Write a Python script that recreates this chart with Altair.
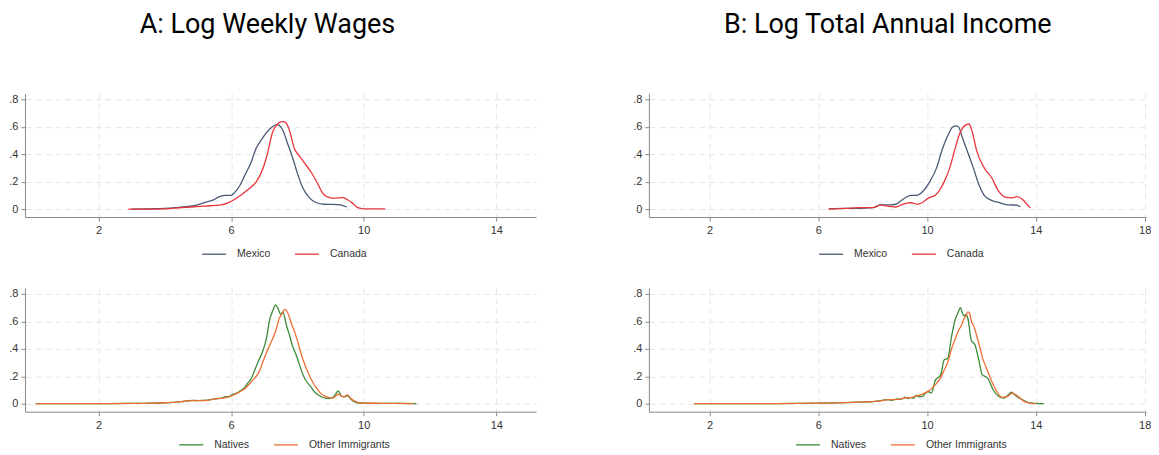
import altair as alt
import pandas as pd

# ---------------- data ----------------
# Panel A top: log weekly wages, Mexico vs Canada
mex_w_x = [3.0, 3.5, 4.0, 4.3, 4.6, 4.9, 5.1, 5.3, 5.45, 5.6, 5.8, 6.0, 6.1, 6.26, 6.4, 6.6, 6.76,
           6.9, 7.06, 7.2, 7.36, 7.45, 7.55, 7.7, 7.86, 8.0, 8.16, 8.35, 8.57, 8.8, 9.07, 9.3, 9.49]
mex_w_y = [0.0, 0.002, 0.005, 0.01, 0.018, 0.025, 0.04, 0.055, 0.065, 0.085, 0.1, 0.1, 0.12, 0.17,
           0.24, 0.34, 0.446, 0.5, 0.555, 0.59, 0.615, 0.61, 0.58, 0.48, 0.37, 0.26, 0.155, 0.085,
           0.046, 0.035, 0.034, 0.03, 0.015]
can_w_x = [2.9, 3.5, 4.0, 4.4, 4.8, 5.2, 5.7, 5.9, 6.1, 6.26, 6.5, 6.76, 6.9, 7.06, 7.26, 7.4, 7.5,
           7.56, 7.65, 7.75, 7.91, 8.05, 8.2, 8.41, 8.6, 8.75, 8.89, 9.1, 9.37, 9.5, 9.65, 9.82,
           10.0, 10.3, 10.65]
can_w_y = [0.0, 0.0, 0.002, 0.008, 0.015, 0.022, 0.03, 0.045, 0.07, 0.095, 0.14, 0.2, 0.26, 0.37,
           0.567, 0.62, 0.635, 0.637, 0.63, 0.58, 0.44, 0.39, 0.34, 0.27, 0.19, 0.12, 0.09, 0.078,
           0.084, 0.07, 0.045, 0.01, 0.002, 0.001, 0.001]

# Panel A bottom: Natives vs Other Immigrants
nat_w_x = [0.1, 1.0, 2.0, 3.0, 3.6, 4.0, 4.38, 4.6, 4.83, 5.0, 5.28, 5.5, 5.72, 5.8, 5.94, 6.05,
           6.17, 6.28, 6.39, 6.5, 6.61, 6.72, 6.84, 6.95, 7.06, 7.17, 7.26, 7.34, 7.42, 7.5,
           7.56, 7.67, 7.76, 7.84, 7.92, 8.0, 8.08, 8.17, 8.28, 8.4, 8.5, 8.62, 8.73, 8.84,
           8.95, 9.06, 9.15, 9.23, 9.34, 9.42, 9.51, 9.62, 9.79, 10.0, 10.5, 11.0, 11.59]
nat_w_y = [0.0, 0.0, 0.001, 0.002, 0.004, 0.007, 0.012, 0.019, 0.024, 0.023, 0.026, 0.036, 0.041,
           0.05, 0.053, 0.068, 0.077, 0.095, 0.113, 0.15, 0.185, 0.25, 0.32, 0.38, 0.47, 0.62,
           0.68, 0.72, 0.69, 0.65, 0.67, 0.57, 0.5, 0.43, 0.38, 0.33, 0.27, 0.21, 0.16, 0.125,
           0.09, 0.065, 0.05, 0.04, 0.038, 0.045, 0.07, 0.094, 0.053, 0.05, 0.06, 0.03, 0.007,
           0.004, 0.003, 0.002, 0.0]
oth_w_x = [0.1, 1.0, 2.0, 3.0, 3.6, 4.0, 4.38, 4.6, 4.83, 5.0, 5.28, 5.5, 5.72, 5.94, 6.17, 6.39,
           6.61, 6.72, 6.84, 6.95, 7.06, 7.17, 7.28, 7.37, 7.45, 7.53, 7.62, 7.7, 7.77, 7.84,
           7.92, 8.0, 8.08, 8.17, 8.28, 8.4, 8.5, 8.62, 8.73, 8.84, 8.95, 9.06, 9.15, 9.23,
           9.32, 9.4, 9.51, 9.62, 9.79, 9.96, 10.5, 11.0, 11.5]
oth_w_y = [0.0, 0.0, 0.001, 0.002, 0.004, 0.007, 0.011, 0.018, 0.022, 0.022, 0.025, 0.034, 0.04,
           0.05, 0.075, 0.105, 0.16, 0.19, 0.23, 0.3, 0.37, 0.43, 0.49, 0.55, 0.62, 0.655,
           0.687, 0.667, 0.62, 0.57, 0.52, 0.46, 0.39, 0.32, 0.25, 0.186, 0.14, 0.1, 0.07,
           0.053, 0.045, 0.041, 0.055, 0.07, 0.058, 0.05, 0.065, 0.036, 0.012, 0.005, 0.003,
           0.002, 0.0]

# Panel B top: log total annual income, Mexico vs Canada
mex_i_x = [6.4, 7.0, 7.5, 8.0, 8.3, 8.6, 8.85, 9.1, 9.4, 9.6, 9.85, 10.1, 10.35, 10.55, 10.75,
           10.95, 11.05, 11.15, 11.3, 11.5, 11.7, 11.9, 12.1, 12.35, 12.63, 13.0, 13.3, 13.43]
mex_i_y = [0.003, 0.005, 0.005, 0.01, 0.03, 0.03, 0.035, 0.07, 0.1, 0.1, 0.13, 0.2, 0.3, 0.43,
           0.53, 0.6, 0.606, 0.6, 0.52, 0.41, 0.3, 0.18, 0.1, 0.065, 0.048, 0.03, 0.029, 0.017]
can_i_x = [6.37, 7.0, 7.5, 8.0, 8.3, 8.6, 8.85, 9.1, 9.4, 9.65, 9.85, 10.05, 10.3, 10.5, 10.63,
           10.8, 11.03, 11.2, 11.3, 11.45, 11.54, 11.65, 11.83, 12.1, 12.37, 12.63, 12.9, 13.1,
           13.3, 13.5, 13.65, 13.79]
can_i_y = [0.0, 0.005, 0.01, 0.01, 0.028, 0.02, 0.015, 0.035, 0.046, 0.035, 0.05, 0.08, 0.1,
           0.15, 0.2, 0.28, 0.44, 0.55, 0.59, 0.615, 0.62, 0.57, 0.42, 0.3, 0.23, 0.13, 0.085,
           0.082, 0.09, 0.072, 0.04, 0.01]

# Panel B bottom: Natives vs Other Immigrants
nat_i_x = [1.44, 3.0, 4.5, 6.0, 7.0, 7.5, 8.0, 8.3, 8.5, 8.7, 8.9, 9.05, 9.2, 9.3, 9.4, 9.5,
           9.6, 9.7, 9.83, 9.93, 10.03, 10.16, 10.3, 10.5, 10.63, 10.76, 10.9, 11.03, 11.13,
           11.23, 11.3, 11.36, 11.43, 11.5, 11.63, 11.76, 11.9, 12.03, 12.13, 12.23, 12.43,
           12.63, 12.83, 12.96, 13.1, 13.2, 13.3, 13.5, 13.76, 14.0, 14.29]
nat_i_y = [0.0, 0.0, 0.001, 0.004, 0.008, 0.012, 0.015, 0.022, 0.03, 0.025, 0.035, 0.033, 0.048,
           0.038, 0.045, 0.04, 0.06, 0.05, 0.053, 0.075, 0.089, 0.077, 0.17, 0.21, 0.32, 0.33,
           0.49, 0.61, 0.66, 0.7, 0.66, 0.64, 0.65, 0.62, 0.46, 0.43, 0.32, 0.21, 0.2, 0.185,
           0.1, 0.053, 0.041, 0.06, 0.084, 0.07, 0.053, 0.03, 0.007, 0.002, 0.0]
oth_i_x = [1.44, 3.0, 4.5, 6.0, 7.0, 7.5, 8.0, 8.3, 8.5, 8.7, 8.9, 9.05, 9.2, 9.4, 9.6, 9.83,
           10.03, 10.16, 10.3, 10.5, 10.63, 10.76, 10.9, 11.03, 11.16, 11.26, 11.36, 11.43,
           11.5, 11.56, 11.63, 11.73, 11.83, 11.93, 12.03, 12.16, 12.3, 12.43, 12.56, 12.76,
           12.96, 13.13, 13.3, 13.43, 13.56, 13.83, 14.0]
oth_i_y = [0.0, 0.0, 0.001, 0.004, 0.008, 0.012, 0.016, 0.02, 0.028, 0.03, 0.032, 0.035, 0.042,
           0.045, 0.055, 0.07, 0.09, 0.11, 0.137, 0.19, 0.246, 0.3, 0.4, 0.47, 0.535, 0.57, 0.62,
           0.64, 0.67, 0.66, 0.6, 0.56, 0.49, 0.42, 0.34, 0.27, 0.2, 0.14, 0.09, 0.046, 0.053,
           0.077, 0.06, 0.04, 0.017, 0.002, 0.0]

names_top = ["Mexico", "Canada"]
colors_top = ["#4b5878", "#e8363c"]
names_bot = ["Natives", "Other Immigrants"]
colors_bot = ["#3a8a3a", "#ec6f34"]
y_ticks = [0, 0.2, 0.4, 0.6, 0.8]
xticks_a = [2, 6, 10, 14]
xticks_b = [2, 6, 10, 14, 18]
title_a = "A: Log Weekly Wages"
title_b = "B: Log Total Annual Income"

FONT = "Liberation Sans"


def make_df(series):
    rows = []
    for name, xs, ys in series:
        for i, (x, y) in enumerate(zip(xs, ys)):
            rows.append({"series": name, "x": x, "y": y, "idx": i})
    return pd.DataFrame(rows)


def panel(df, names, colors, xdomain, xticks, width, legend_w, legend_y):
    return alt.Chart(df).mark_line(strokeWidth=1.3, interpolate="monotone").encode(
        x=alt.X("x:Q",
                scale=alt.Scale(domain=xdomain, nice=False, zero=False),
                axis=alt.Axis(values=xticks, title=None, grid=True, gridDash=[6, 4],
                              gridColor="#e6e6e6", domainColor="#8a8a8a", tickColor="#8a8a8a",
                              tickSize=4, labelFont=FONT, labelFontSize=11, labelColor="#333333",
                              labelPadding=4, labelFlush=False)),
        y=alt.Y("y:Q",
                scale=alt.Scale(domain=[-0.058, 0.844], nice=False, zero=False),
                axis=alt.Axis(values=y_ticks, title=None, grid=True, gridDash=[6, 4],
                              gridColor="#e6e6e6", domainColor="#8a8a8a", tickColor="#8a8a8a",
                              tickSize=4, labelFont=FONT, labelFontSize=11, labelColor="#333333",
                              labelPadding=3, labelFlush=False,
                              labelExpr="datum.value == 0 ? '0' : replace(format(datum.value, '.1f'), '0.', '.')")),
        color=alt.Color("series:N", sort=names,
                        scale=alt.Scale(domain=names, range=colors),
                        legend=alt.Legend(orient="none", direction="horizontal", title=None,
                                          legendX=width / 2 - legend_w / 2, legendY=legend_y,
                                          symbolType="stroke", symbolSize=576,
                                          symbolStrokeWidth=1.3, labelFont=FONT,
                                          labelFontSize=10.5, labelColor="#333333",
                                          labelOffset=10, columnPadding=21, padding=0)),
        order="idx:Q",
    ).properties(width=width, height=124)


df_at = make_df([("Mexico", mex_w_x, mex_w_y), ("Canada", can_w_x, can_w_y)])
df_ab = make_df([("Natives", nat_w_x, nat_w_y), ("Other Immigrants", oth_w_x, oth_w_y)])
df_bt = make_df([("Mexico", mex_i_x, mex_i_y), ("Canada", can_i_x, can_i_y)])
df_bb = make_df([("Natives", nat_i_x, nat_i_y), ("Other Immigrants", oth_i_x, oth_i_y)])

WA, WB = 512, 498
DOM_A = [-0.22, 15.2]
DOM_B = [-0.23, 18.05]

p_at = panel(df_at, names_top, colors_top, DOM_A, xticks_a, WA, 159, 148)
p_ab = panel(df_ab, names_bot, colors_bot, DOM_A, xticks_a, WA, 205, 144)
p_bt = panel(df_bt, names_top, colors_top, DOM_B, xticks_b, WB, 159, 148)
p_bb = panel(df_bb, names_bot, colors_bot, DOM_B, xticks_b, WB, 205, 144)


def title(t, dx):
    return alt.TitleParams(t, anchor="middle", font="Roboto", fontSize=27, fontWeight="normal",
                           color="#000000", offset=54, dx=dx)


left = alt.vconcat(p_at, p_ab, spacing=28, title=title(title_a, -5)).resolve_scale(
    color="independent", x="independent", y="independent").resolve_legend(color="independent")
right = alt.vconcat(p_bt, p_bb, spacing=28, title=title(title_b, -4)).resolve_scale(
    color="independent", x="independent", y="independent").resolve_legend(color="independent")

chart = alt.hconcat(left, right, spacing=96).resolve_scale(
    color="independent", x="independent", y="independent").resolve_legend(
    color="independent").properties(
    padding={"left": 0, "top": 3, "right": 0, "bottom": 0},
    background="white",
).configure_view(stroke=None)

chart.save("out.html", embed_options={"renderer": "svg", "actions": False})
